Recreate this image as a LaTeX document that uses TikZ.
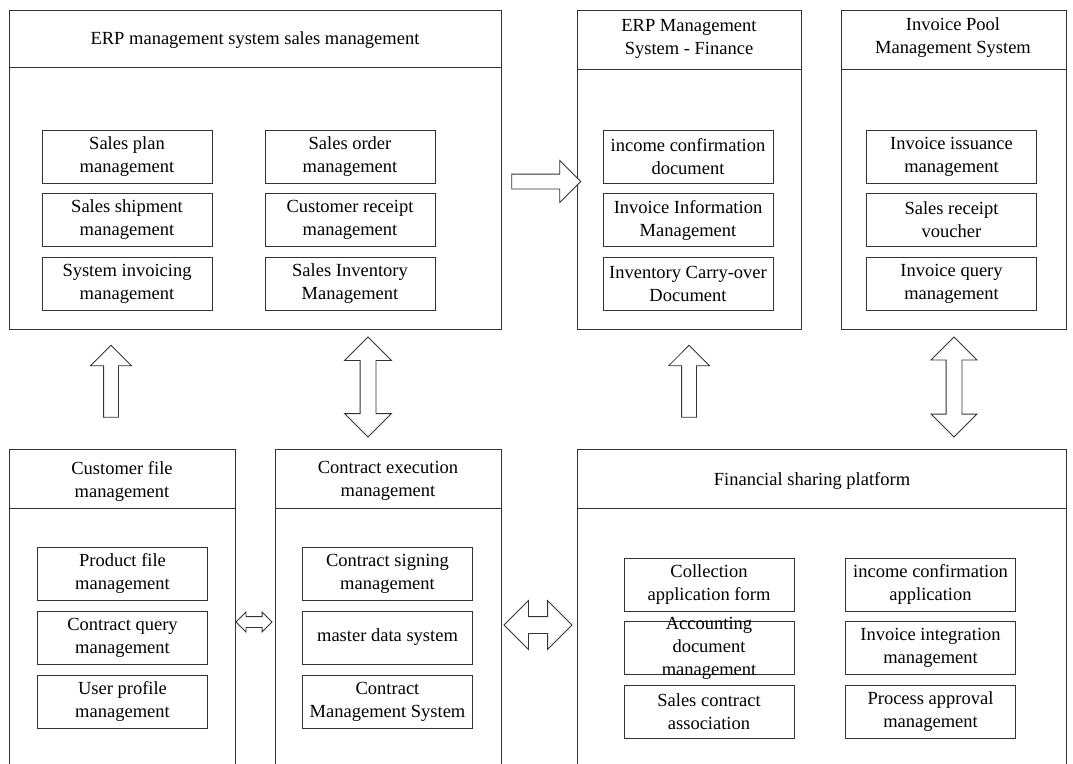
\documentclass[tikz,border=0pt]{standalone}
\usepackage{fontspec}
\setmainfont{Liberation Serif}
\usetikzlibrary{shapes.arrows}
\tikzset{
	frame/.style={draw=black!80, line width=0.8pt},
	panel/.style={frame, anchor=north west, inner sep=0pt},
	item/.style={frame, minimum width=170pt, minimum height=53pt, align=center, inner sep=1pt},
	head/.style={align=center},
	blk/.style={frame, fill=white, inner sep=0pt, minimum width=0pt},
	onearrow/.style={blk, single arrow, single arrow head extend=#1},
	twoarrow/.style={blk, double arrow, double arrow head extend=#1},
}

\begin{document}
\begin{tikzpicture}[x=1pt, y=-1pt, every node/.style={font=\fontsize{18.5}{23}\selectfont}]
	%\draw[help lines] (0,0) grid[step=50] (1073,763);
	\useasboundingbox (0,0) rectangle (1073,763);
	% top row
	\node[panel, minimum width=492pt, minimum height=319pt] (erp) at (9,10) {};
	\draw[frame] (erp.west |- 0,67) -- (erp.east |- 0,67);
	\node[head] (erpt) at (255,40) {ERP management system sales management};
	\node[item] (plan) at (127,156.5) {Sales plan\\management};
	\node[item] (ship) at (127,220) {Sales shipment\\management};
	\node[item] (sinv) at (127,284) {System invoicing\\management};
	\node[item] (order) at (350,156.5) {Sales order\\management};
	\node[item] (rcpt) at (350,220) {Customer receipt\\management};
	\node[item] (sinvt) at (350,284) {Sales Inventory\\Management};

	\node[panel, minimum width=224pt, minimum height=319pt] (fin) at (577,10) {};
	\draw[frame] (fin.west |- 0,69) -- (fin.east |- 0,69);
	\node[head] (fint) at (689,39) {ERP Management\\System - Finance};
	\node[item] (incd) at (688,156.5) {income confirmation\\document};
	\node[item] (invm) at (688,220) {Invoice Information\\Management};
	\node[item] (carry) at (688,284) {Inventory Carry-over\\Document};

	\node[panel, minimum width=225pt, minimum height=319pt] (pool) at (841,10) {};
	\draw[frame] (pool.west |- 0,69) -- (pool.east |- 0,69);
	\node[head] (poolt) at (953,38) {Invoice Pool\\Management System};
	\node[item] (issue) at (951.5,156.5) {Invoice issuance\\management};
	\node[item] (vouch) at (951.5,220) {Sales receipt\\voucher};
	\node[item] (query) at (951.5,284) {Invoice query\\management};

	% bottom row (open at the bottom)
	\node[panel, minimum width=226pt, minimum height=340pt] (cust) at (9,449) {};
	\draw[frame] (cust.west |- 0,508) -- (cust.east |- 0,508);
	\node[head] (custt) at (122,481) {Customer file\\management};
	\node[item] (prod) at (122.5,573.5) {Product file\\management};
	\node[item] (cqry) at (122.5,637.5) {Contract query\\management};
	\node[item] (user) at (122.5,701.5) {User profile\\management};

	\node[panel, minimum width=226pt, minimum height=340pt] (cont) at (275,449) {};
	\draw[frame] (cont.west |- 0,508) -- (cont.east |- 0,508);
	\node[head] (contt) at (388,481) {Contract execution\\management};
	\node[item] (sign) at (387.5,573.5) {Contract signing\\management};
	\node[item] (mdata) at (387.5,637.5) {master data system};
	\node[item] (cms) at (387.5,701.5) {Contract\\Management System};

	\node[panel, minimum width=489pt, minimum height=340pt] (fsp) at (577,449) {};
	\draw[frame] (fsp.west |- 0,508) -- (fsp.east |- 0,508);
	\node[head] (fspt) at (812,481) {Financial sharing platform};
	\node[item] (coll) at (709,584.5) {Collection\\application form};
	\node[item] (acc) at (709,648) {};
	\node[head] (acct) at (acc) {Accounting\\document\\management};
	\node[item] (assoc) at (709,712) {Sales contract\\association};
	\node[item] (inca) at (930.5,584.5) {income confirmation\\application};
	\node[item] (integ) at (930.5,648) {Invoice integration\\management};
	\node[item] (appr) at (930.5,712) {Process approval\\management};

	% block arrows
	\node[onearrow=13pt, inner ysep=7pt, minimum height=72pt, rotate=90] (a1) at (111,385) {};
	\node[twoarrow=15.5pt, inner ysep=7.5pt, minimum height=100pt, rotate=90] (a2) at (368,387) {};
	\node[onearrow=13.5pt, inner ysep=7pt, minimum height=69pt] (a3) at (542.5,181.5) {};
	\node[onearrow=13pt, inner ysep=7pt, minimum height=72pt, rotate=90] (a4) at (689,385) {};
	\node[twoarrow=15pt, inner ysep=7.5pt, minimum height=100pt, rotate=90] (a5) at (954,387) {};
	\node[twoarrow=4.5pt, inner ysep=5pt, minimum height=36pt] (a6) at (254,622) {};
	\node[twoarrow=16pt, inner ysep=8pt, minimum height=68pt] (a7) at (538,625) {};
\end{tikzpicture}
\end{document}
